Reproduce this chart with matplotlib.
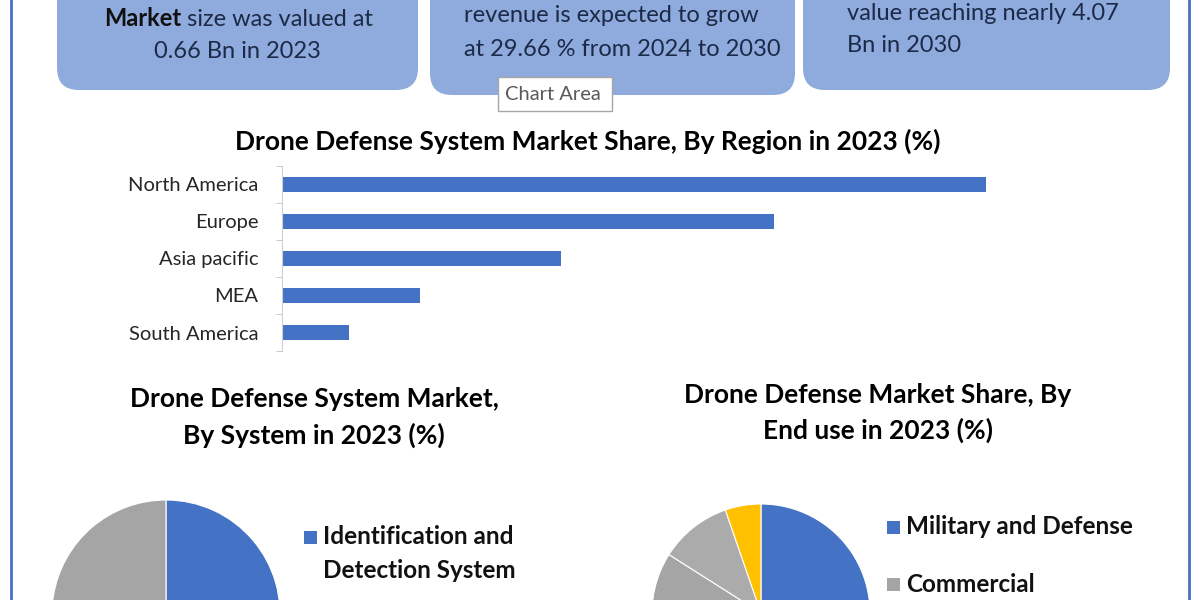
import matplotlib
matplotlib.use('Agg')
import matplotlib.pyplot as plt
from matplotlib.patches import FancyBboxPatch, Rectangle

plt.rcParams['font.family'] = ['Lato', 'DejaVu Sans']

# Region bar chart
regions = ['North America', 'Europe', 'Asia pacific', 'MEA', 'South America']
region_share = [41.9, 29.3, 16.6, 8.2, 4.0]

# System pie (left)
systems = ['Identification and\nDetection System', 'Mitigation and\nCountermeasure System']
system_share = [55, 45]
system_colors = ['#4472C4', '#A5A5A5']

# End use pie (right)
end_uses = ['Military and Defense', 'Commercial', 'Homeland Security', 'Others']
end_use_share = [62.0, 22.0, 10.7, 5.3]
end_use_colors = ['#4472C4', '#A5A5A5', '#ABABAB', '#FFC000']

# Top boxes: (first line, second line)
box_lines = [
    ('Market size was valued at', '0.66 Bn in 2023'),
    ('revenue is expected to grow', 'at 29.66 % from 2024 to 2030'),
    ('value reaching nearly 4.07', 'Bn in 2030'),
]

W, H = 1200, 600
fig = plt.figure(figsize=(12, 6), dpi=100)


def px_axes(x0, y0, x1, y1):
    # axes from pixel box, y measured from the top
    return fig.add_axes([x0 / W, 1 - y1 / H, (x1 - x0) / W, (y1 - y0) / H])


# background layer in pixel coords
bg = px_axes(0, 0, W, H)
bg.set_xlim(0, W)
bg.set_ylim(H, 0)
bg.axis('off')

blue = '#4472C4'
box_fc = '#8FAADC'
txt_dark = '#1B2A47'

bg.plot([11, 11], [0, H], color=blue, lw=2)
bg.plot([1189, 1189], [0, H], color=blue, lw=2)

boxes = [(57, 418, 90), (430, 795, 95), (803, 1170, 90)]
for x0, x1, yb in boxes:
    bg.add_patch(FancyBboxPatch((x0, -40), x1 - x0, yb + 40,
                                boxstyle='round,pad=0,rounding_size=22',
                                fc=box_fc, ec='none'))

fs_box = 17
# box 1: bold "Market" then the rest
first = box_lines[0][0].split(' ', 1)
t = bg.text(104, 19, first[0], weight='bold', va='center', ha='left',
            size=fs_box, color='#111111')
bg.annotate(' ' + first[1], xy=(1, 0), xycoords=t, va='bottom', ha='left',
            size=fs_box, color=txt_dark)
bg.text(237, 52, box_lines[0][1], ha='center', va='center', size=fs_box,
        color=txt_dark)
# box 2
bg.text(464, 16, box_lines[1][0], ha='left', va='center', size=fs_box,
        color=txt_dark)
bg.text(464, 50, box_lines[1][1], ha='left', va='center', size=fs_box,
        color=txt_dark)
# box 3
bg.text(847, 13, box_lines[2][0], ha='left', va='center', size=fs_box,
        color=txt_dark)
bg.text(847, 45, box_lines[2][1], ha='left', va='center', size=fs_box,
        color=txt_dark)

# "Chart Area" tooltip
bg.add_patch(Rectangle((498, 77), 114, 34, fc='white', ec='#A6A6A6', lw=1,
                       zorder=5))
bg.text(505, 94, 'Chart Area', ha='left', va='center', size=14.5,
        color='#595959', zorder=6)

# titles
fs_title = 19
bg.text(588, 141, 'Drone Defense System Market Share, By Region in 2023 (%)',
        ha='center', va='center', weight='bold', size=fs_title)
bg.text(314, 399, 'Drone Defense System Market,', ha='center', va='center',
        weight='bold', size=fs_title)
bg.text(314, 435, 'By System in 2023 (%)', ha='center', va='center',
        weight='bold', size=fs_title)
bg.text(878, 395, 'Drone Defense Market Share, By', ha='center', va='center',
        weight='bold', size=fs_title)
bg.text(878, 430, 'End use in 2023 (%)', ha='center', va='center',
        weight='bold', size=fs_title)

# bar chart
ax = px_axes(282, 166, 282 + 45 * 16.8, 351)
ax.barh(range(len(regions)), region_share, height=0.41, color=blue)
ax.set_xlim(0, 45)
ax.set_ylim(len(regions) - 0.5, -0.5)
ax.set_yticks(range(len(regions)), regions)
ax.set_yticks([i - 0.5 for i in range(len(regions) + 1)], minor=True)
ax.tick_params(axis='y', which='major', length=0, pad=17, labelsize=14.5,
               labelcolor='#262626')
ax.tick_params(axis='y', which='minor', length=4, color='#BFBFBF')
ax.set_xticks([])
for s in ['top', 'right', 'bottom']:
    ax.spines[s].set_visible(False)
ax.spines['left'].set_color('#D0D0D0')
ax.patch.set_alpha(0)

# left pie
pl = px_axes(52, 500, 280, 728)
pl.pie(system_share, colors=system_colors, startangle=90, counterclock=False,
       wedgeprops=dict(edgecolor='white', linewidth=0.8))
pl.set_xlim(-1, 1)
pl.set_ylim(-1, 1)
pl.set_aspect('equal')

# right pie
pr = px_axes(652, 504, 870, 722)
pr.pie(end_use_share, colors=end_use_colors, startangle=90, counterclock=False,
       wedgeprops=dict(edgecolor='white', linewidth=0.8))
pr.set_xlim(-1, 1)
pr.set_ylim(-1, 1)
pr.set_aspect('equal')

# legends drawn by hand so the square sits on the first line;
# entries that fall below the picture's edge are left out
fs_leg = 17.5


def draw_legend(x, y, labels, colors, step, line_gap):
    for lab, col in zip(labels, colors):
        lines = lab.split('\n')
        if y + line_gap * (len(lines) - 1) + 12 > H:
            break
        bg.add_patch(Rectangle((x - 6.5, y - 6.5), 13, 13, fc=col, ec='none'))
        for k, ln in enumerate(lines):
            bg.text(x + 13, y + k * line_gap, ln, ha='left', va='center',
                    weight='bold', size=fs_leg, color='#111111')
        y += step + line_gap * (len(lines) - 1)


draw_legend(310, 537, systems, system_colors, 57, 34)
draw_legend(893, 527, end_uses, end_use_colors, 57, 34)

fig.savefig('out.png', dpi=100)
